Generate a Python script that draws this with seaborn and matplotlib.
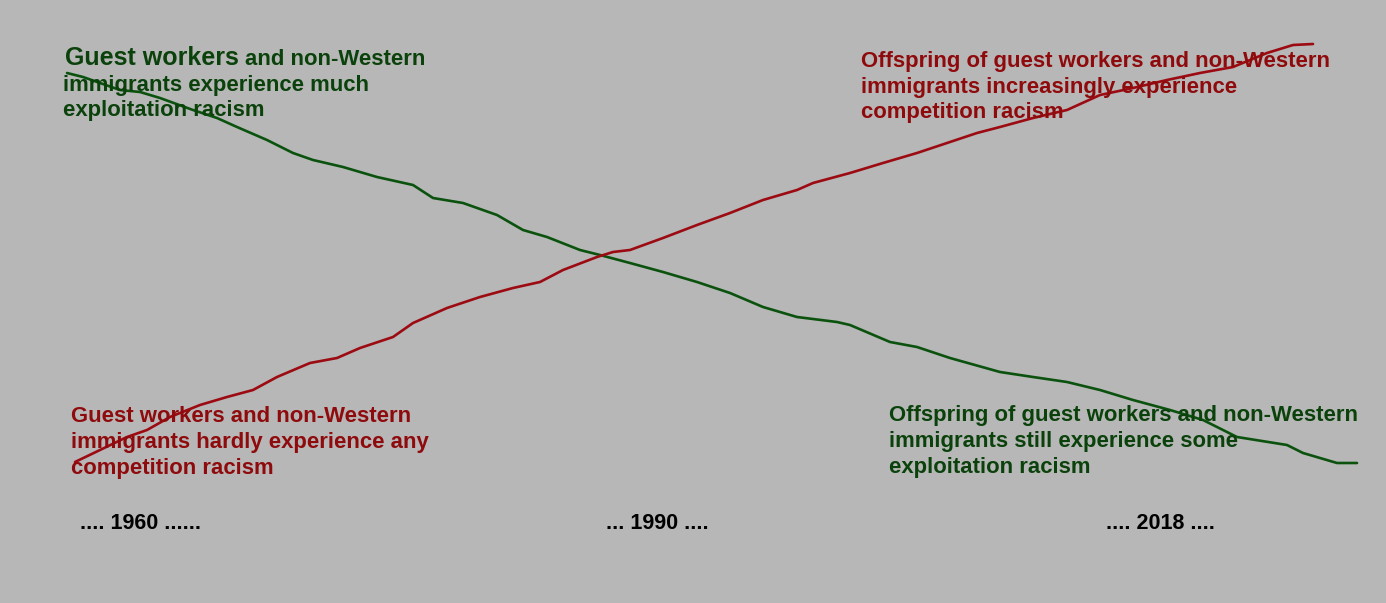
import matplotlib
matplotlib.use("Agg")
import matplotlib.pyplot as plt
import seaborn as sns
import pandas as pd

# ---- data (horizontal position, vertical position from top) ----
exploit_x = [67, 83, 100, 120, 140, 160, 193, 217, 237, 267, 293, 313, 343, 377, 413,
             433, 463, 497, 523, 547, 580, 600, 630, 663, 697, 730, 763, 797, 837, 850,
             890, 917, 950, 1000, 1033, 1067, 1100, 1133, 1170, 1203, 1237, 1287, 1303,
             1337, 1357]
exploit_y = [73, 77, 83, 90, 92, 98, 110, 118, 127, 140, 153, 160, 167, 177, 185,
             198, 203, 215, 230, 237, 250, 255, 263, 272, 282, 293, 307, 317, 322, 325,
             342, 347, 358, 372, 377, 382, 390, 400, 410, 420, 437, 445, 453,
             463, 463]

compet_x = [75, 100, 127, 147, 170, 200, 227, 253, 277, 310, 337, 360, 393, 413, 447,
            480, 513, 540, 563, 597, 613, 630, 663, 697, 730, 763, 797, 813, 850, 883,
            917, 950, 977, 1000, 1033, 1067, 1100, 1133, 1167, 1200, 1233, 1267, 1293,
            1313]
compet_y = [462, 450, 437, 430, 417, 405, 397, 390, 377, 363, 358, 348, 337, 323, 308,
            297, 288, 282, 270, 257, 252, 250, 238, 225, 213, 200, 190, 183, 173, 163,
            153, 142, 133, 127, 118, 110, 95, 88, 80, 73, 67, 53, 45,
            44]

period_labels = [".... 1960 ......", "... 1990 ....", ".... 2018 ...."]
period_x = [140, 657, 1160]

BG = "#b7b7b7"
GREEN_LINE = "#0b520e"
RED_LINE = "#9c0a12"
GREEN_TXT = "#0b420c"
RED_TXT = "#8e0a0c"

sns.set_theme(style="white")
plt.rcParams["font.family"] = ["Liberation Sans", "DejaVu Sans"]

fig = plt.figure(figsize=(13.86, 6.03), dpi=100, facecolor=BG)
ax = fig.add_axes([0, 0, 1, 1])
ax.set_facecolor(BG)

df_e = pd.DataFrame({"x": exploit_x, "y": exploit_y})
df_c = pd.DataFrame({"x": compet_x, "y": compet_y})
sns.lineplot(data=df_e, x="x", y="y", sort=False, color=GREEN_LINE, lw=1.9, ax=ax)
sns.lineplot(data=df_c, x="x", y="y", sort=False, color=RED_LINE, lw=1.9, ax=ax)

ax.set_xlim(0, 1386)
ax.set_ylim(603, 0)
ax.axis("off")

fs = 15.9
def lines(x, ys, texts, color):
    for y, t in zip(ys, texts):
        ax.text(x, y, t, color=color, fontsize=fs, fontweight="bold",
                ha="left", va="baseline")

# top-left (green)
ax.text(65, 65, "Guest workers", color=GREEN_TXT, fontsize=18, fontweight="bold",
        ha="left", va="baseline")
ax.text(245, 65, "and non-Western", color=GREEN_TXT, fontsize=fs, fontweight="bold",
        ha="left", va="baseline")
lines(63, [91, 116], ["immigrants experience much", "exploitation racism"], GREEN_TXT)

# top-right (red)
lines(861, [67, 93, 118],
      ["Offspring of guest workers and non-Western",
       "immigrants increasingly experience",
       "competition racism"], RED_TXT)

# bottom-left (red)
lines(71, [422, 448, 474],
      ["Guest workers and non-Western",
       "immigrants hardly experience any",
       "competition racism"], RED_TXT)

# bottom-right (green)
lines(889, [421, 447, 473],
      ["Offspring of guest workers and non-Western",
       "immigrants still experience some",
       "exploitation racism"], GREEN_TXT)

for x, t in zip(period_x, period_labels):
    ax.text(x, 529, t, color="black", fontsize=15.5, fontweight="bold",
            ha="center", va="baseline")

fig.savefig("out.png", dpi=100, facecolor=BG)
